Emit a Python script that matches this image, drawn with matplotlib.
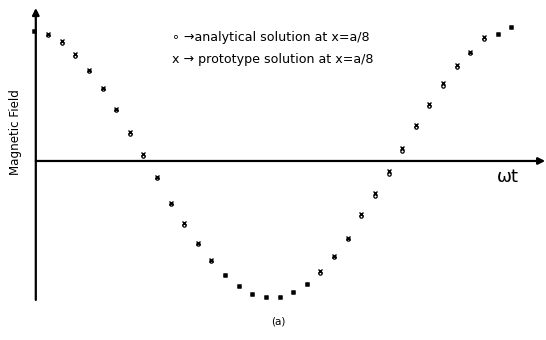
import numpy as np
import matplotlib.pyplot as plt

# sample index along wt (equal steps)
step = np.arange(36)

# magnetic field at x=a/8, normalised to the starting value
analytical = [1.00, 0.97, 0.91, 0.81, 0.69, 0.55, 0.39, 0.21, 0.04, -0.13,
              -0.33, -0.49, -0.64, -0.77, -0.88, -0.96, -1.02, -1.05, -1.05, -1.01,
              -0.95, -0.86, -0.74, -0.60, -0.42, -0.27, -0.10, 0.08, 0.26, 0.42,
              0.58, 0.72, 0.83, 0.94, 0.98, 1.03]
prototype = [1.00, 0.98, 0.92, 0.82, 0.70, 0.56, 0.40, 0.22, 0.05, -0.12,
             -0.32, -0.48, -0.63, -0.76, -0.88, -0.96, -1.02, -1.05, -1.05, -1.01,
             -0.95, -0.85, -0.73, -0.59, -0.41, -0.25, -0.08, 0.10, 0.28, 0.44,
             0.60, 0.74, 0.84, 0.95, 0.98, 1.03]

fig = plt.figure(figsize=(5.46, 3.40), dpi=100)
ax = fig.add_axes([20 / 546, 1 - 305 / 340, 526 / 546, 300 / 340])
ax.set_xlim(-1.06, 37.56)
ax.set_ylim(-1.108, 1.2)
ax.axis('off')

# hand-drawn style axes with arrow heads
ax.annotate('', xy=(37.5, 0), xytext=(0.1, 0),
            arrowprops=dict(arrowstyle='-|>', lw=1.6, color='black',
                            mutation_scale=10, shrinkA=0, shrinkB=0),
            annotation_clip=False)
ax.annotate('', xy=(0.1, 1.177), xytext=(0.1, -1.069),
            arrowprops=dict(arrowstyle='-|>', lw=1.6, color='black',
                            mutation_scale=10, shrinkA=0, shrinkB=0),
            annotation_clip=False)

ax.plot(step, analytical, 'o', ms=2.4, mfc='none', mec='black', mew=0.9)
ax.plot(step, prototype, 'x', ms=2.6, color='black', mew=1.0)

ax.text(172, 340 - 37, '∘ →analytical solution at x=a/8', transform=None,
        fontsize=9.1, va='center', ha='left')
ax.text(172, 340 - 59, 'x → prototype solution at x=a/8', transform=None,
        fontsize=9.1, va='center', ha='left')

fig.text(16 / 546, 1 - 132 / 340, 'Magnetic Field', rotation=90,
         fontsize=8.6, ha='center', va='center')
ax.text(497, 340 - 177, 'ωt', transform=None, fontsize=13,
        ha='left', va='center')
fig.text(278 / 546, 1 - 322 / 340, '(a)', fontsize=7.5, ha='center', va='center')

fig.savefig('out.png', dpi=100, facecolor='white')
